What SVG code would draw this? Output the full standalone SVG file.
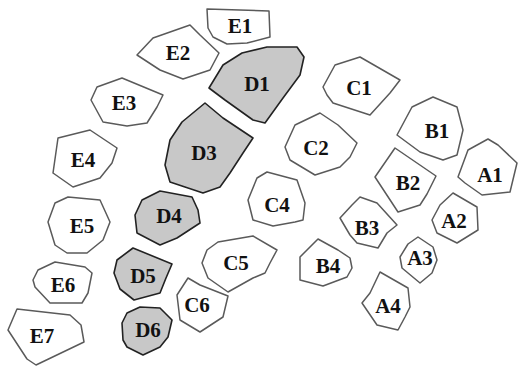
<svg xmlns="http://www.w3.org/2000/svg" width="519" height="367" viewBox="0 0 519 367">
<style>
.w{fill:#ffffff;stroke:#5a5a5a;stroke-width:1.5;stroke-linejoin:round}
.g{fill:#c8c8c8;stroke:#222222;stroke-width:1.6;stroke-linejoin:round}
text{font-family:"Liberation Serif","Times New Roman",serif;font-weight:bold;font-size:21px;fill:#111;text-anchor:middle}
</style>
<rect width="519" height="367" fill="#ffffff"/>
<g id="connectors"></g>
<g id="E1"><polygon class="w" points="207,9 269,11 270,37 247,43 227,44 213,37 208,28"/><text x="240" y="33">E1</text></g>
<g id="E2"><polygon class="w" points="137,55 153,38 190,25 200,35 219,53 210,70 183,79 160,70"/><text x="178" y="60">E2</text></g>
<g id="D1"><polygon class="g" points="209,88 223,65 242,53 267,47 297,47 304,57 300,75 283,98 265,123 253,120 225,100"/><text x="257" y="91">D1</text></g>
<g id="E3"><polygon class="w" points="91,100 97,87 122,78 163,95 157,107 147,123 127,126 103,122"/><text x="124" y="110">E3</text></g>
<g id="C1"><polygon class="w" points="323,87 335,65 360,57 400,80 390,93 370,115 333,103 327,95"/><text x="359" y="95">C1</text></g>
<g id="B1"><polygon class="w" points="397,135 412,107 433,97 457,107 463,130 457,155 443,160 420,152"/><text x="437" y="138">B1</text></g>
<g id="C2"><polygon class="w" points="285,147 295,125 320,113 338,125 357,143 350,157 340,167 315,175 290,160"/><text x="316" y="155">C2</text></g>
<g id="A1"><polygon class="w" points="458,177 468,150 488,139 498,145 517,163 510,192 482,195 465,183"/><text x="490" y="182">A1</text></g>
<g id="B2"><polygon class="w" points="375,177 395,148 436,176 427,194 420,205 398,212"/><text x="408" y="190">B2</text></g>
<g id="D3"><polygon class="g" points="165,165 170,140 182,122 205,103 223,118 253,138 243,153 230,173 220,187 203,193 170,182"/><text x="204" y="160">D3</text></g>
<g id="E4"><polygon class="w" points="53,173 58,138 90,130 117,148 112,163 100,178 73,187"/><text x="83" y="167">E4</text></g>
<g id="C4"><polygon class="w" points="248,200 257,178 267,172 297,180 305,203 303,220 295,222 273,226 253,220"/><text x="277" y="212">C4</text></g>
<g id="B3"><polygon class="w" points="340,218 352,205 360,197 377,203 397,225 387,233 378,248 357,243 350,235"/><text x="367" y="235">B3</text></g>
<g id="A2"><polygon class="w" points="432,220 440,205 453,193 477,207 478,230 457,243 437,233"/><text x="454" y="228">A2</text></g>
<g id="E5"><polygon class="w" points="48,222 55,203 68,197 100,200 110,222 103,240 87,253 67,253 55,245"/><text x="82" y="233">E5</text></g>
<g id="D4"><polygon class="g" points="135,215 142,200 160,191 192,197 198,210 200,223 177,238 160,245 137,233"/><text x="169" y="223">D4</text></g>
<g id="A3"><polygon class="w" points="400,257 408,244 418,237 433,247 437,260 432,273 420,283 402,268"/><text x="420" y="265">A3</text></g>
<g id="B4"><polygon class="w" points="300,257 318,239 338,250 350,258 352,268 347,277 323,286 300,280"/><text x="328" y="273">B4</text></g>
<g id="C5"><polygon class="w" points="202,263 207,250 218,242 253,236 277,250 270,263 265,273 253,278 228,292 208,278"/><text x="236" y="270">C5</text></g>
<g id="D5"><polygon class="g" points="114,273 117,260 133,248 172,264 166,278 160,293 134,300 120,289"/><text x="143" y="283">D5</text></g>
<g id="E6"><polygon class="w" points="33,280 38,270 55,262 85,267 92,273 88,293 82,303 50,303 35,287"/><text x="63" y="292">E6</text></g>
<g id="C6"><polygon class="w" points="177,295 188,278 200,285 228,296 223,317 200,332 180,320"/><text x="197" y="312">C6</text></g>
<g id="A4"><polygon class="w" points="362,303 370,293 380,272 408,288 410,307 405,317 398,330 377,325"/><text x="388" y="313">A4</text></g>
<g id="D6"><polygon class="g" points="122,323 127,313 140,307 160,308 172,320 168,337 160,347 143,355 127,347 123,340"/><text x="148" y="337">D6</text></g>
<g id="E7"><polygon class="w" points="8,330 17,309 70,315 81,325 84,342 36,365 27,359"/><text x="42" y="343">E7</text></g>
</svg>
